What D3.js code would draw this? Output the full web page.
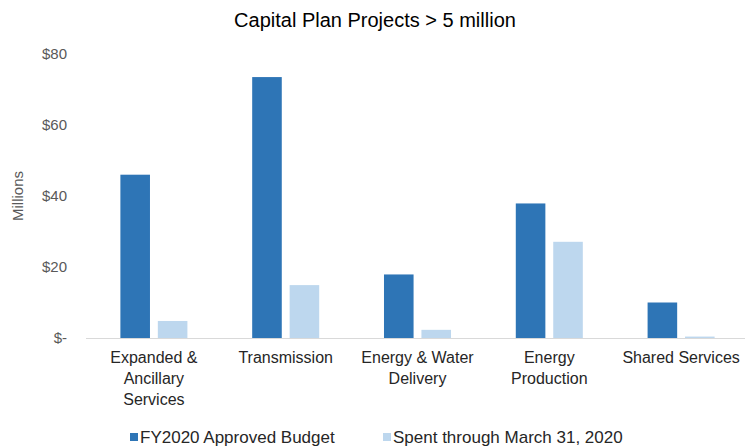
<!DOCTYPE html>
<html lang="en">
<head>
    <meta charset="UTF-8">
    <title>Capital Plan Projects</title>
    <style>
        body {
            margin: 0;
            font-family: 'Liberation Sans', Arial, sans-serif;
            background: #fff;
        }
        .axis path,
        .axis line {
            display: none;
        }
        .axis text {
            font: 15px 'Liberation Sans', Arial, sans-serif;
            fill: #595959;
        }
        .cat-label {
            font: 16px 'Liberation Sans', Arial, sans-serif;
            fill: #262626;
        }
        .legend text {
            font: 17px 'Liberation Sans', Arial, sans-serif;
            fill: #262626;
        }
    </style>
</head>
<body>
    <div id="chart"></div>

    <script src="https://d3js.org/d3.v7.min.js"></script>
    <script>
        // данные графика
        const categories = [
            ['Expanded &', 'Ancillary', 'Services'],
            ['Transmission'],
            ['Energy & Water', 'Delivery'],
            ['Energy', 'Production'],
            ['Shared Services']
        ];
        const seriesNames = ['FY2020 Approved Budget', 'Spent through March 31, 2020'];
        const budget = [46.0, 73.5, 17.9, 37.9, 10.0];
        const spent = [4.8, 14.9, 2.3, 27.1, 0.4];
        const yTicks = [0, 20, 40, 60, 80];

        const colors = ['#2E75B6', '#BDD7EE'];

        const W = 745, H = 447;
        const margin = {top: 54, right: 0, bottom: 109, left: 88};
        const width = W - margin.left - margin.right + 2,
              height = H - margin.top - margin.bottom;

        const svg = d3.select("#chart")
          .append("svg")
            .attr("width", W)
            .attr("height", H);

        svg.append("text")
            .attr("x", 375)
            .attr("y", 27)
            .attr("text-anchor", "middle")
            .style("font-size", "20px")
            .style("fill", "#000")
            .text("Capital Plan Projects > 5 million");

        const g = svg.append("g")
            .attr("transform", "translate(" + margin.left + "," + margin.top + ")");

        const keys = categories.map(c => c.join(' '));
        const rows = keys.map((k, i) => ({key: k, lines: categories[i], values: [budget[i], spent[i]]}));

        const x0 = d3.scaleBand()
            .domain(keys)
            .range([0, width])
            .padding(0);

        const x1 = d3.scaleBand()
            .domain([0, 1])
            .range([0, x0.bandwidth()])
            .paddingInner(0.21)
            .paddingOuter(0.865);

        const y = d3.scaleLinear()
            .domain([0, 80])
            .range([height, 0]);

        // ось Y
        g.append("g")
            .attr("class", "axis")
            .attr("transform", "translate(-18,0)")
            .call(d3.axisLeft(y).tickValues(yTicks).tickSize(0)
                .tickFormat(d => d === 0 ? '$-' : '$' + d));

        g.append("text")
            .attr("transform", "translate(-70," + y(40) + ") rotate(-90)")
            .attr("text-anchor", "middle")
            .attr("dy", "0.35em")
            .style("font-size", "15px")
            .style("fill", "#595959")
            .text("Millions");

        // бары
        const groups = g.selectAll(".group")
            .data(rows)
            .join("g")
            .attr("class", "group")
            .attr("transform", d => "translate(" + x0(d.key) + ",0)");

        groups.selectAll("rect")
            .data(d => d.values.map((v, i) => ({i: i, v: v})))
            .join("rect")
            .attr("x", d => x1(d.i))
            .attr("y", d => y(d.v))
            .attr("width", x1.bandwidth())
            .attr("height", d => y(0) - y(d.v))
            .attr("fill", d => colors[d.i]);

        // базовая линия
        g.append("line")
            .attr("x1", -2)
            .attr("x2", width)
            .attr("y1", y(0) + 0.5)
            .attr("y2", y(0) + 0.5)
            .attr("stroke", "#D9D9D9")
            .attr("stroke-width", 1);

        // подписи категорий
        groups.append("text")
            .attr("class", "cat-label")
            .attr("text-anchor", "middle")
            .selectAll("tspan")
            .data(d => d.lines)
            .join("tspan")
            .attr("x", x0.bandwidth() / 2)
            .attr("y", (d, i) => height + 25 + i * 21)
            .text(d => d);

        // легенда
        const legendX = [130, 383];
        const legend = svg.append("g")
            .attr("class", "legend")
            .selectAll("g")
            .data(seriesNames)
            .join("g")
            .attr("transform", (d, i) => "translate(" + legendX[i] + ",437)");

        legend.append("rect")
            .attr("x", 0)
            .attr("y", -4)
            .attr("width", 8)
            .attr("height", 8)
            .attr("fill", (d, i) => colors[i]);

        legend.append("text")
            .attr("x", 10)
            .attr("dy", "0.35em")
            .text(d => d);
    </script>
</body>
</html>
